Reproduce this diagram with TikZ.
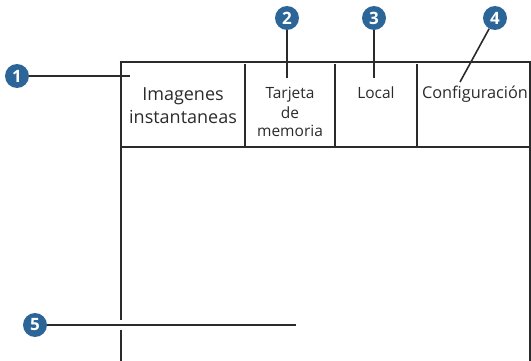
\documentclass[tikz,border=0pt]{standalone}
\usepackage{fontspec}
\setmainfont{Open Sans}
\definecolor{frame}{HTML}{2B2B2B}
\definecolor{callblue}{HTML}{2C6598}
\begin{document}
\begin{tikzpicture}[x=1pt,y=-1pt,
  frameline/.style={draw=frame,line width=2.6pt},
  thinframe/.style={draw=frame,line width=1.6pt},
  callline/.style={draw=frame,line width=1.6pt},
  callout/.style={circle,fill=callblue,minimum size=24pt,inner sep=0pt,text=white,font=\fontsize{17}{17}\selectfont\bfseries},
  biglabel/.style={anchor=base,text=frame,inner sep=0pt,font=\fontsize{18}{18}\selectfont},
  tablabel/.style={anchor=base,text=frame,inner sep=0pt,font=\fontsize{15.5}{15.5}\selectfont},
]
\useasboundingbox (0,0) rectangle (531,361);
% frame
\coordinate (tr) at (530,62);
\coordinate (br) at (530,361);
\draw[frameline] (121,60.7) -- (121,361);
\draw[thinframe] (119.7,62) -- (tr) -- (br);
\draw[frameline] (121,147) -- (530,147);
\draw[frameline] (245,64) -- (245,147);
\draw[frameline] (335,64) -- (335,147);
\draw[frameline] (417,64) -- (417,147);
% labels
\node[biglabel] (t1a) at (183,101) {Imagenes};
\node[biglabel] (t1b) at (183,124) {instantaneas};
\node[tablabel] (t2a) at (290,99) {Tarjeta};
\node[tablabel] (t2b) at (290,118) {de};
\node[tablabel] (t2c) at (290,137) {memoria};
\node[tablabel] (t3) at (376,99) {Local};
\node[tablabel,font=\fontsize{16.3}{16.3}\selectfont] (t4) at (475,99) {Configuración};
% callouts
\node[callout] (c1) at (17,76) {1};
\node[callout] (c2) at (287,18) {2};
\node[callout] (c3) at (374,18) {3};
\node[callout] (c4) at (495,18) {4};
\node[callout] (c5) at (35,325) {5};
\coordinate (e1) at (130,76);
\coordinate (e2) at (287,78);
\coordinate (e3) at (374,78);
\coordinate (e4) at (460,82);
\coordinate (e5) at (296,325);
\fill[white] (117,320) rectangle (125,330);
\draw[callline] (c1) -- (e1);
\draw[callline] (c2) -- (e2);
\draw[callline] (c3) -- (e3);
\draw[callline] (c4) -- (e4);
\draw[callline] (c5) -- (e5);
\end{tikzpicture}
\end{document}
